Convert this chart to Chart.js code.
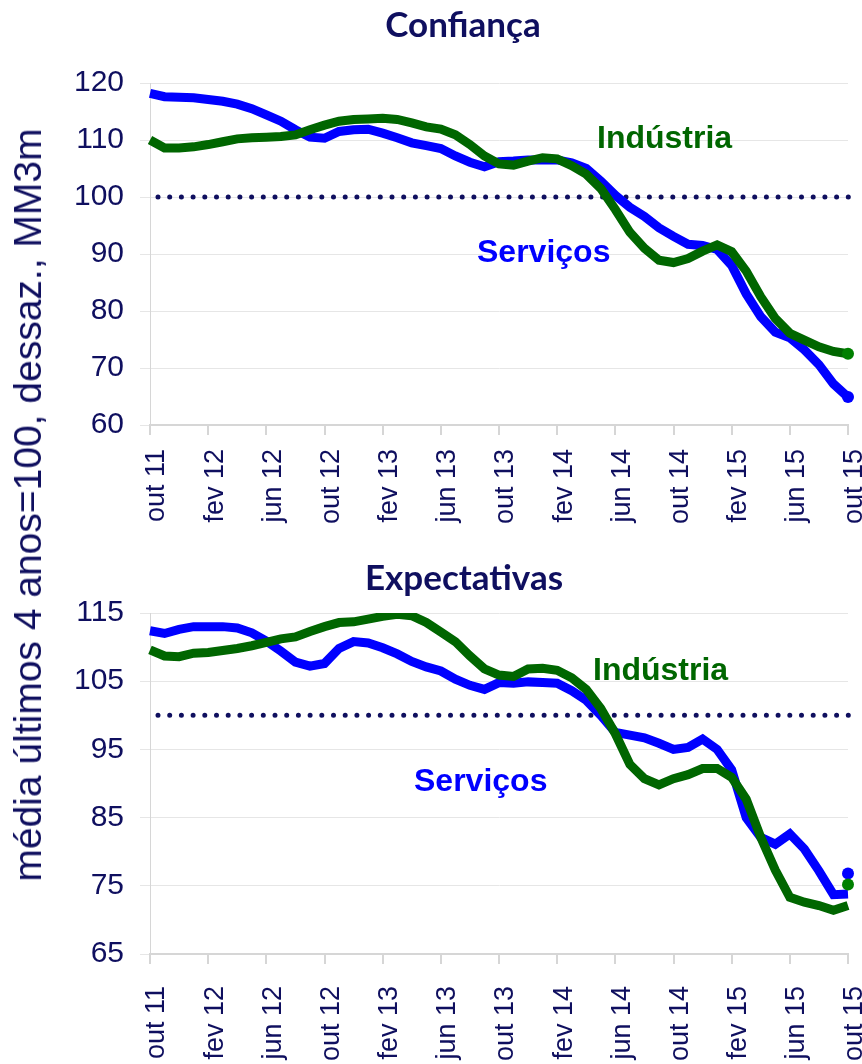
<!DOCTYPE html>
<html>
<head>
<meta charset="utf-8">
<script src="https://cdn.jsdelivr.net/npm/chart.js@4.4.0/dist/chart.umd.min.js"></script>
<style>
  body { margin: 0; background: #fff; }
  #wrap { position: relative; width: 862px; height: 1064px; overflow: hidden; }
  canvas { position: absolute; left: 0; }
  #c1 { top: 0; }
  #c2 { top: 530px; }
  #ytitle {
    position: absolute; left: 28px; top: 505px;
    transform: translate(-50%, -50%) rotate(-90deg);
    white-space: nowrap; color: #0f0f5f;
    font: 39px "Liberation Sans Narrow", "Liberation Sans", sans-serif;
  }
</style>
</head>
<body>
<div id="wrap">
  <canvas id="c1" width="862" height="530"></canvas>
  <canvas id="c2" width="862" height="534"></canvas>
  <div id="ytitle">média últimos 4 anos=100, dessaz., MM3m</div>
</div>
<script>
// months, out 11 .. out 15
var months = ['out 11','nov 11','dez 11','jan 12','fev 12','mar 12','abr 12','mai 12','jun 12','jul 12','ago 12','set 12',
  'out 12','nov 12','dez 12','jan 13','fev 13','mar 13','abr 13','mai 13','jun 13','jul 13','ago 13','set 13',
  'out 13','nov 13','dez 13','jan 14','fev 14','mar 14','abr 14','mai 14','jun 14','jul 14','ago 14','set 14',
  'out 14','nov 14','dez 14','jan 15','fev 15','mar 15','abr 15','mai 15','jun 15','jul 15','ago 15','set 15','out 15'];

// Confiança
var confServ = [118.2,117.6,117.5,117.4,117.1,116.8,116.3,115.5,114.4,113.3,111.8,110.5,110.3,111.5,111.8,111.9,111.2,110.4,109.5,109.0,
  108.5,107.2,106.1,105.3,106.2,106.3,106.5,106.5,106.5,106.0,105.0,102.8,100.3,98.2,96.6,94.6,93.1,91.7,91.5,90.8,
  88.0,83.0,79.0,76.3,75.3,73.2,70.6,67.2,64.9];
var confInd = [110.0,108.6,108.6,108.8,109.2,109.7,110.2,110.4,110.5,110.6,110.9,111.8,112.6,113.3,113.6,113.7,113.8,113.6,113.0,112.3,
  111.9,110.9,109.2,107.2,105.8,105.6,106.3,106.9,106.7,105.5,104.0,101.5,97.8,93.8,91.0,88.9,88.5,89.2,90.5,91.6,
  90.4,87.0,82.5,78.7,76.1,74.9,73.7,72.9,72.5];

// Expectativas
var expServ = [112.4,112.0,112.6,113.0,113.0,113.0,112.8,112.1,110.9,109.4,107.8,107.2,107.6,109.8,110.8,110.6,109.9,109.0,107.9,107.1,
  106.5,105.3,104.4,103.8,104.8,104.7,104.9,104.8,104.7,103.6,102.2,100.0,97.5,97.1,96.7,95.9,95.0,95.3,96.5,95.0,
  92.0,85.0,82.1,81.1,82.6,80.4,77.2,73.7,73.8];
var expInd = [109.6,108.7,108.6,109.1,109.2,109.5,109.8,110.2,110.7,111.2,111.5,112.3,113.0,113.6,113.7,114.1,114.5,114.8,114.6,113.6,
  112.2,110.8,108.7,106.8,105.9,105.7,106.8,106.9,106.6,105.5,103.8,101.0,97.3,92.8,90.7,89.8,90.7,91.3,92.2,92.2,
  90.9,87.7,82.1,77.3,73.3,72.6,72.1,71.4,72.1];
// latest single-month readings (dots)
var expServLast = 76.8;
var expIndLast = 75.2;

var refLevel = 100;
var navy = '#0f0f5f';
var blue = '#0000ff';
var green = '#006600';
var dotGreen = '#008000';
var last = months.length - 1;

// dotted line at 100
var refLine = {
  id: 'refLine',
  beforeDatasetsDraw: function (chart, args, opts) {
    var ctx = chart.ctx, a = chart.chartArea;
    var y = chart.scales.y.getPixelForValue(opts.value);
    ctx.save();
    ctx.strokeStyle = navy;
    ctx.lineWidth = 5;
    ctx.lineCap = 'round';
    ctx.setLineDash([0, 11.7]);
    ctx.beginPath();
    ctx.moveTo(a.left + 8, y);
    ctx.lineTo(a.right + 4, y);
    ctx.stroke();
    ctx.restore();
  }
};

// titles and series labels
var panelText = {
  id: 'panelText',
  afterDraw: function (chart, args, opts) {
    var ctx = chart.ctx;
    ctx.save();
    opts.items.forEach(function (t) {
      ctx.font = t.font;
      ctx.fillStyle = t.color;
      ctx.textAlign = t.align || 'left';
      ctx.textBaseline = 'alphabetic';
      ctx.fillText(t.text, t.x, t.y);
    });
    ctx.restore();
  }
};

function lastDot(value) {
  return months.map(function (m, i) { return i === last ? value : null; });
}

function makeChart(id, ymin, ymax, sets, texts, xHeight, labelPad) {
  return new Chart(document.getElementById(id), {
    type: 'line',
    data: { labels: months, datasets: sets },
    options: {
      responsive: false,
      animation: false,
      layout: { padding: { top: 83, right: 14, left: 0, bottom: 0 } },
      plugins: {
        legend: { display: false },
        tooltip: { enabled: false },
        refLine: { value: refLevel },
        panelText: { items: texts }
      },
      scales: {
        x: {
          offset: false,
          afterFit: function (s) {
            s.height = xHeight;
            s.paddingLeft = 0;
            s.paddingRight = 0;
          },
          grid: {
            drawOnChartArea: false,
            tickLength: 10,
            lineWidth: 2,
            color: function (c) { return c.index % 4 === 0 ? '#d6d6d6' : 'rgba(0,0,0,0)'; }
          },
          border: { color: '#d6d6d6', width: 2 },
          ticks: {
            autoSkip: false,
            maxRotation: 90,
            minRotation: 90,
            padding: labelPad,
            labelOffset: 7,
            color: navy,
            font: { family: 'Liberation Sans', size: 27 },
            callback: function (v, i) { return i % 4 === 0 ? this.getLabelForValue(v) : ''; }
          }
        },
        y: {
          min: ymin, max: ymax,
          afterFit: function (s) { s.width = 150; },
          grid: { color: '#e6e6e6', lineWidth: 1, tickLength: 10 },
          border: { color: '#d6d6d6', width: 1 },
          ticks: {
            stepSize: 10,
            padding: 16,
            color: navy,
            font: { family: 'Liberation Sans', size: 30 }
          }
        }
      }
    },
    plugins: [refLine, panelText]
  });
}

var titleFont = 'bold 35px Lato';
var seriesFont = 'bold 32px "Liberation Sans"';

makeChart('c1', 60, 120, [
  { data: confInd, borderColor: green, borderWidth: 9, tension: 0, fill: false,
    pointRadius: function (c) { return c.dataIndex === last ? 6 : 0; },
    pointBackgroundColor: dotGreen, pointBorderWidth: 0 },
  { data: confServ, borderColor: blue, borderWidth: 9, tension: 0, fill: false,
    pointRadius: function (c) { return c.dataIndex === last ? 6 : 0; },
    pointBackgroundColor: blue, pointBorderWidth: 0 }
], [
  { text: 'Confiança', x: 463, y: 37, font: titleFont, color: navy, align: 'center' },
  { text: 'Indústria', x: 597, y: 148, font: seriesFont, color: green },
  { text: 'Serviços', x: 477, y: 262, font: seriesFont, color: blue }
], 105, 14);

makeChart('c2', 65, 115, [
  { data: lastDot(expIndLast), showLine: false, pointRadius: 6, pointBackgroundColor: dotGreen, pointBorderWidth: 0 },
  { data: lastDot(expServLast), showLine: false, pointRadius: 6, pointBackgroundColor: blue, pointBorderWidth: 0 },
  { data: expInd, borderColor: green, borderWidth: 9, tension: 0, fill: false, pointRadius: 0 },
  { data: expServ, borderColor: blue, borderWidth: 9, tension: 0, fill: false, pointRadius: 0 }
], [
  { text: 'Expectativas', x: 464, y: 60, font: titleFont, color: navy, align: 'center' },
  { text: 'Indústria', x: 593, y: 150, font: seriesFont, color: green },
  { text: 'Serviços', x: 414, y: 261, font: seriesFont, color: blue }
], 110, 22);
</script>
</body>
</html>
